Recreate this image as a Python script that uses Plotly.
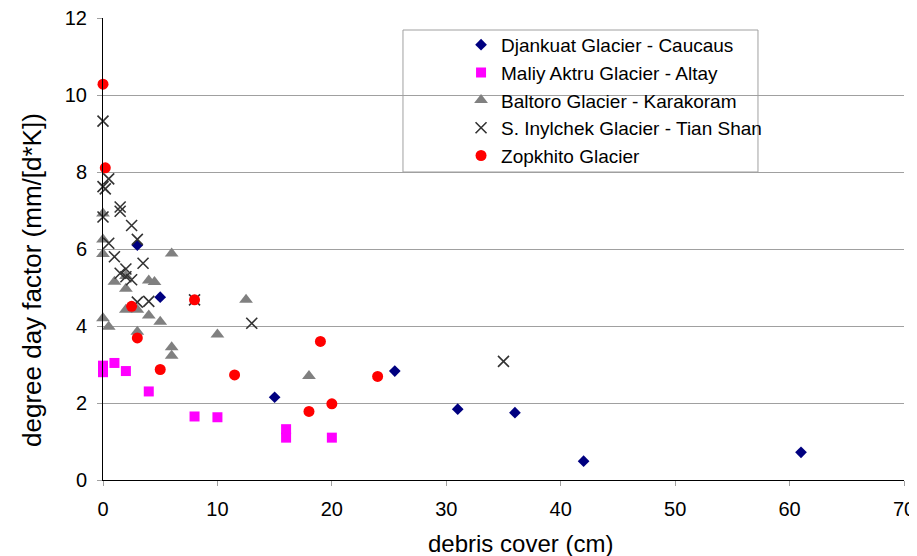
import plotly.graph_objects as go

# Djankuat Glacier - Caucaus
dj_x = [3, 5, 15, 25.5, 31, 36, 42, 61]
dj_y = [6.1, 4.75, 2.15, 2.83, 1.84, 1.75, 0.49, 0.72]

# Maliy Aktru Glacier - Altay
ma_x = [0, 0, 1, 2, 4, 8, 10, 16, 16, 20]
ma_y = [2.97, 2.8, 3.04, 2.83, 2.3, 1.65, 1.63, 1.32, 1.1, 1.1]

# Baltoro Glacier - Karakoram
ba_x = [0, 0, 0, 0, 0.5, 1, 2, 2, 2, 3, 3, 4, 4, 4.5, 5, 6, 6, 6, 10, 12.5, 18]
ba_y = [6.92, 6.25, 5.87, 4.2, 3.98, 5.15, 5.3, 4.97, 4.42, 4.42, 3.85, 5.18,
        4.27, 5.14, 4.11, 5.88, 3.45, 3.23, 3.78, 4.68, 2.7]

# S. Inylchek Glacier - Tian Shan
ti_x = [0, 0.5, 0, 0.2, 1.5, 1.5, 0, 2.5, 3, 0.5, 1, 3.5, 2, 1.5, 2, 2.5,
        3, 4, 8, 13, 35]
ti_y = [9.32, 7.82, 7.62, 7.56, 7.09, 6.98, 6.83, 6.61, 6.25, 6.15, 5.8, 5.63,
        5.48, 5.37, 5.28, 5.2, 4.62, 4.64, 4.68, 4.07, 3.08]

# Zopkhito Glacier
zo_x = [0, 0.2, 2.5, 3, 5, 8, 11.5, 18, 19, 20, 24]
zo_y = [10.28, 8.11, 4.51, 3.69, 2.87, 4.68, 2.73, 1.78, 3.6, 1.98, 2.69]

names = ["Djankuat Glacier - Caucaus", "Maliy Aktru Glacier - Altay",
         "Baltoro Glacier - Karakoram", "S. Inylchek Glacier - Tian Shan",
         "Zopkhito Glacier"]

x_ticks = [0, 10, 20, 30, 40, 50, 60, 70]
y_ticks = [0, 2, 4, 6, 8, 10, 12]

x_title = "debris cover (cm)"
y_title = "degree day factor (mm/[d*K])"

FONT = "Liberation Sans, Arial, sans-serif"

fig = go.Figure()
fig.add_trace(go.Scatter(x=dj_x, y=dj_y, mode="markers", name=names[0],
                         marker=dict(symbol="diamond", size=9, color="#000080"),
                         cliponaxis=False))
fig.add_trace(go.Scatter(x=ma_x, y=ma_y, mode="markers", name=names[1],
                         marker=dict(symbol="square", size=10, color="#FF00FF"),
                         cliponaxis=False))
fig.add_trace(go.Scatter(x=ba_x, y=ba_y, mode="markers", name=names[2],
                         marker=dict(symbol="triangle-up", size=12, color="#808080"),
                         cliponaxis=False))
fig.add_trace(go.Scatter(x=ti_x, y=ti_y, mode="markers", name=names[3],
                         marker=dict(symbol="x-thin", size=11, color="#333333",
                                     line=dict(width=1.6, color="#333333")),
                         cliponaxis=False))
fig.add_trace(go.Scatter(x=zo_x, y=zo_y, mode="markers", name=names[4],
                         marker=dict(symbol="circle", size=11, color="#FF0000"),
                         cliponaxis=False))

# legend frame
fig.add_shape(type="rect", xref="paper", yref="paper",
              x0=0.3745, x1=0.8177, y0=0.6667, y1=0.974,
              line=dict(color="#a0a0a0", width=1), fillcolor="white", layer="below")

# axis titles
fig.add_annotation(text=y_title, xref="paper", yref="paper",
                   x=-0.0886, y=0.433, xanchor="center", yanchor="middle",
                   textangle=-90, showarrow=False,
                   font=dict(family=FONT, size=26, color="black"))
fig.add_annotation(text=x_title, xref="paper", yref="paper",
                   x=0.5218, y=-0.1364, xanchor="center", yanchor="middle",
                   showarrow=False,
                   font=dict(family=FONT, size=24, color="black"))

fig.update_layout(
    width=909, height=548,
    margin=dict(l=95, r=13, t=10, b=76, autoexpand=False),
    paper_bgcolor="white", plot_bgcolor="white",
    font=dict(family=FONT, size=19, color="black"),
    showlegend=True,
    legend=dict(x=0.447, y=0.983, xanchor="left", yanchor="top",
                bgcolor="rgba(0,0,0,0)", borderwidth=0,
                font=dict(family=FONT, size=19, color="black"),
                itemwidth=30),
    xaxis=dict(range=[0, 70], tickmode="array", tickvals=x_ticks,
               showgrid=False, zeroline=False,
               showline=True, linecolor="black", linewidth=1,
               ticks="outside", ticklen=5, tickcolor="#a0a0a0",
               ticklabelstandoff=6, automargin=False, ticklabeloverflow="allow",
               tickfont=dict(family=FONT, size=20)),
    yaxis=dict(range=[0, 12], tickmode="array", tickvals=y_ticks,
               showgrid=True, gridcolor="#a0a0a0",
               gridwidth=1, zeroline=False,
               showline=True, linecolor="black", linewidth=1,
               ticks="outside", ticklen=5, tickcolor="#a0a0a0",
               ticklabelstandoff=6, automargin=False, ticklabeloverflow="allow",
               tickfont=dict(family=FONT, size=20)),
)

fig.write_html("out.html")
